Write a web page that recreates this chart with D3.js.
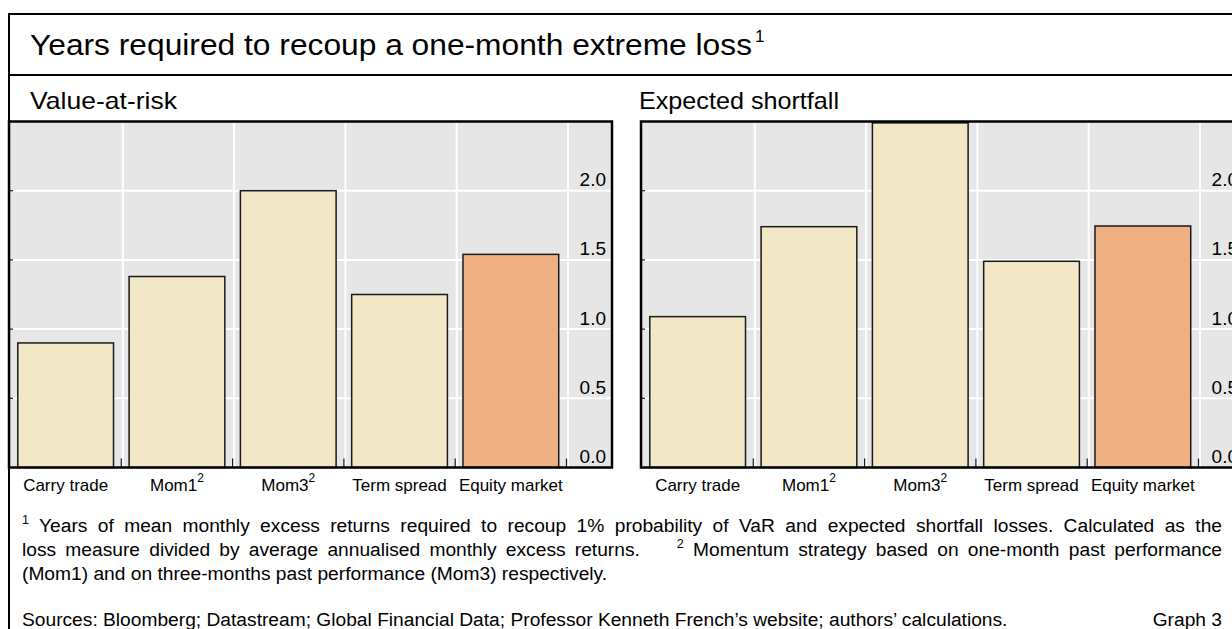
<!DOCTYPE html>
<html>
<head>
<meta charset="utf-8">
<script src="https://cdn.jsdelivr.net/npm/d3@7"></script>
<style>
body { margin: 0; background: #fff; }
svg { display: block; font-family: "Liberation Sans", Arial, Helvetica, sans-serif; }
</style>
</head>
<body>
<svg id="chart"></svg>
<script>
// data
let categories = ['Carry trade', 'Mom1', 'Mom3', 'Term spread', 'Equity market']
let categoryNotes = ['', '2', '2', '', '']
let varValues = [0.90, 1.38, 2.00, 1.25, 1.54]
let esValues = [1.09, 1.74, 2.49, 1.49, 1.745]
let yTicks = [0, 0.5, 1.0, 1.5, 2.0]
let gridTicks = [0.5, 1.0, 1.5, 2.0]
let panelTitles = ['Value-at-risk', 'Expected shortfall']
let highlighted = 'Equity market'

let title = 'Years required to recoup a one-month extreme loss'
let footLine1 = [['1', true], [' Years of mean monthly excess returns required to recoup 1% probability of VaR and expected shortfall losses. Calculated as the', false]]
let footLine2 = [['loss measure divided by average annualised monthly excess returns.\u00a0\u00a0\u00a0 ', false], ['2', true], [' Momentum strategy based on one-month past performance', false]]
let footLine3 = [['(Mom1) and on three-months past performance (Mom3) respectively.', false]]
let sources = 'Sources: Bloomberg; Datastream; Global Financial Data; Professor Kenneth French\u2019s website; authors\u2019 calculations.'
let graphLabel = 'Graph 3'

let width = 1232
let height = 629

let plotTop = 121.5
let plotBottom = 467.5
let panelWidth = 603
let panelLeft = [9, 641]

let cream = '#f2e8c8'
let orange = '#eeb082'
let plotBg = '#e6e6e6'

let svg = d3.select('#chart')
    .attr('width', width)
    .attr('height', height)

// outer frame
svg.append('path')
    .attr('d', `M9,${height} V14 H${width + 10}`)
    .attr('fill', 'none')
    .attr('stroke', '#000')
    .attr('stroke-width', 2)
svg.append('line')
    .attr('x1', 9).attr('x2', width + 10)
    .attr('y1', 75).attr('y2', 75)
    .attr('stroke', '#000')
    .attr('stroke-width', 2)

// title
svg.append('text')
    .attr('x', 30)
    .attr('y', 55)
    .attr('font-size', 30)
    .attr('textLength', 722)
    .attr('lengthAdjust', 'spacingAndGlyphs')
    .text(title)
svg.append('text')
    .attr('x', 755)
    .attr('y', 42)
    .attr('font-size', 17)
    .text('1')

let yScale = d3.scaleLinear()
    .domain([0, 2.5])
    .range([plotBottom, plotTop])

const drawPanel = (x0, values, name, subX, subLen) => {
    let g = svg.append('g')

    let xScale = d3.scaleBand()
        .domain(categories)
        .range([x0 + 1, x0 + 557.5])
        .paddingInner(0.14)
        .paddingOuter(0.07)

    let step = xScale.step()
    let bounds = d3.range(1, categories.length + 1).map(i => x0 + 1 + i * step)

    g.append('text')
        .attr('x', subX)
        .attr('y', 109)
        .attr('font-size', 24)
        .attr('textLength', subLen)
        .attr('lengthAdjust', 'spacingAndGlyphs')
        .text(name)

    g.append('rect')
        .attr('x', x0)
        .attr('y', plotTop)
        .attr('width', panelWidth)
        .attr('height', plotBottom - plotTop)
        .attr('fill', plotBg)

    g.selectAll('.hgrid')
        .data(gridTicks)
        .enter()
        .append('line')
        .attr('x1', x0).attr('x2', x0 + panelWidth)
        .attr('y1', d => yScale(d)).attr('y2', d => yScale(d))
        .attr('stroke', '#fff')
        .attr('stroke-width', 2)

    g.selectAll('.vgrid')
        .data(bounds)
        .enter()
        .append('line')
        .attr('x1', d => d + 1.5).attr('x2', d => d + 1.5)
        .attr('y1', plotTop).attr('y2', plotBottom)
        .attr('stroke', '#fff')
        .attr('stroke-width', 2)

    g.selectAll('.bar')
        .data(values)
        .enter()
        .append('rect')
        .attr('x', (d, i) => xScale(categories[i]))
        .attr('y', d => yScale(d))
        .attr('width', xScale.bandwidth())
        .attr('height', d => yScale(0) - yScale(d))
        .attr('fill', (d, i) => categories[i] === highlighted ? orange : cream)
        .attr('stroke', '#1a1a1a')
        .attr('stroke-width', 1.5)

    // short ticks at the bottom between categories
    g.selectAll('.xtick')
        .data(bounds)
        .enter()
        .append('line')
        .attr('x1', d => d).attr('x2', d => d)
        .attr('y1', plotBottom - 9).attr('y2', plotBottom)
        .attr('stroke', '#1a1a1a')
        .attr('stroke-width', 1.2)

    // tiny ticks on the left edge
    g.selectAll('.ltick')
        .data(gridTicks)
        .enter()
        .append('line')
        .attr('x1', x0).attr('x2', x0 + 4)
        .attr('y1', d => yScale(d)).attr('y2', d => yScale(d))
        .attr('stroke', '#1a1a1a')
        .attr('stroke-width', 1.2)

    let yAxis = d3.axisLeft(yScale)
        .tickValues(yTicks)
        .tickSize(0)
        .tickFormat(d3.format('.1f'))

    g.append('g')
        .attr('transform', `translate(${x0 + 597},0)`)
        .call(yAxis)
        .attr('font-family', null)
        .attr('font-size', 19)
        .call(a => a.select('.domain').remove())
        .selectAll('text')
        .attr('x', 0)
        .attr('y', -5)
        .attr('dy', null)
        .attr('fill', '#000')

    let labels = g.selectAll('.xlabel')
        .data(categories)
        .enter()
        .append('text')
        .attr('x', d => xScale(d) + xScale.bandwidth() / 2)
        .attr('y', 491)
        .attr('font-size', 17)
        .attr('text-anchor', 'middle')
    labels.append('tspan').text(d => d)
    labels.append('tspan')
        .attr('font-size', 12)
        .attr('dy', -9)
        .text((d, i) => categoryNotes[i])

    g.append('rect')
        .attr('x', x0)
        .attr('y', plotTop)
        .attr('width', panelWidth)
        .attr('height', plotBottom - plotTop)
        .attr('fill', 'none')
        .attr('stroke', '#000')
        .attr('stroke-width', 2.5)
}

drawPanel(panelLeft[0], varValues, panelTitles[0], 30, 147)
drawPanel(panelLeft[1], esValues, panelTitles[1], 639, 200)

// footnotes, first two lines justified
const footLine = (parts, y, justify) => {
    let t = svg.append('text')
        .attr('x', 22)
        .attr('y', y)
        .attr('font-size', 19.2)
        .style('white-space', 'pre')
    let raised = false
    parts.forEach(p => {
        let dy = 0
        if (p[1] && !raised) dy = -8
        if (!p[1] && raised) dy = 8
        raised = p[1]
        t.append('tspan')
            .attr('font-size', p[1] ? 12.5 : null)
            .attr('dy', dy)
            .text(p[0])
    })
    if (justify) {
        let natural = t.node().getComputedTextLength()
        let text = parts.map(p => p[0]).join('')
        let gaps = (text.match(/[ \u00a0]/g) || []).length
        t.style('word-spacing', ((1200 - natural) / gaps) + 'px')
    }
}
footLine(footLine1, 532, true)
footLine(footLine2, 556, true)
footLine(footLine3, 580, false)

svg.append('text')
    .attr('x', 22)
    .attr('y', 626)
    .attr('font-size', 19.2)
    .text(sources)
svg.append('text')
    .attr('x', 1222)
    .attr('y', 626)
    .attr('font-size', 19.2)
    .attr('text-anchor', 'end')
    .text(graphLabel)
</script>
</body>
</html>
